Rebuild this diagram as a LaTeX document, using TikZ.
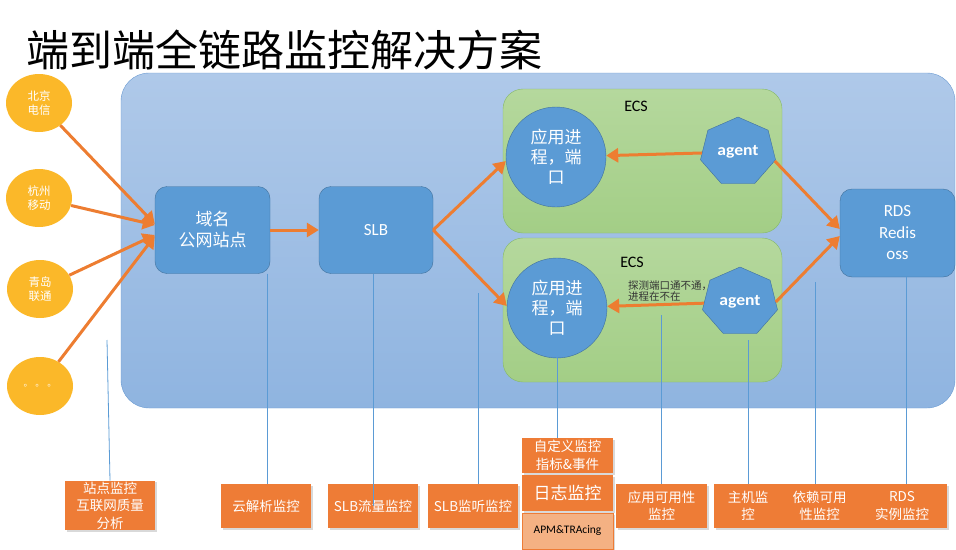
\documentclass[tikz,border=0pt]{standalone}
\usepackage{fontspec}
\setmainfont{Carlito}
\newfontfamily\cjk{Noto Sans CJK SC}
\usetikzlibrary{shapes.geometric,arrows.meta,shadows}

\definecolor{bgtop}{HTML}{AFC9E9}
\definecolor{bgbot}{HTML}{8FB4E0}
\definecolor{bgline}{HTML}{6B9BD2}
\definecolor{nodeblue}{HTML}{5B9BD5}
\definecolor{nodeline}{HTML}{41719C}
\definecolor{ecstop}{HTML}{B5D89D}
\definecolor{ecsbot}{HTML}{A3CE86}
\definecolor{ecsline}{HTML}{86B86A}
\definecolor{ispyellow}{HTML}{FBB829}
\definecolor{flowc}{HTML}{ED7D31}
\definecolor{monc}{HTML}{EE7C36}
\definecolor{monlight}{HTML}{F4B183}
\definecolor{tapline}{HTML}{5B9BD5}

\begin{document}
\begin{tikzpicture}[
        x=1pt, y=-1pt,
        >={Triangle[length=12pt,width=14pt]},
        blk/.style={
            draw=nodeline, fill=nodeblue, text=white, rounded corners=12pt,
            minimum width=115pt, minimum height=87pt, align=center,
            font=\fontsize{17}{21}\selectfont
        },
        isp/.style={
            ellipse, fill=ispyellow, text=white, minimum width=66pt,
            minimum height=58pt, align=center,
            font=\cjk\fontsize{11.5}{14}\selectfont
        },
        ecsbox/.style={
            draw=ecsline, top color=ecstop, bottom color=ecsbot,
            rounded corners=20pt, minimum width=279pt, minimum height=144pt
        },
        proc/.style={
            circle, draw=nodeline, fill=nodeblue, text=white, minimum size=100pt,
            inner sep=0pt, align=center, font=\cjk\fontsize{17}{20}\selectfont
        },
        agentnode/.style={
            regular polygon, regular polygon sides=7, draw=nodeline,
            fill=nodeblue, text=white, minimum size=70pt, inner sep=0pt,
            xscale=1.1, font=\bfseries\fontsize{16}{18}\selectfont
        },
        mon/.style={
            fill=monc, text=white, minimum width=90pt, minimum height=44pt,
            inner sep=1pt, align=center, font=\cjk\fontsize{13.5}{17.5}\selectfont,
            drop shadow={shadow xshift=1.5pt, shadow yshift=-1.5pt, opacity=0.3}
        },
        flow/.style={->, draw=flowc, line width=3pt},
        tap/.style={draw=tapline, line width=0.8pt}
    ]
    \useasboundingbox (0,0) rectangle (956,549);

    % 1. 标题
    \node[anchor=west, inner sep=0pt, font=\cjk\fontsize{43}{45}\selectfont]
        (title) at (26,50) {端到端全链路监控解决方案};

    % 2. 阿里云背景
    \node[draw=bgline, top color=bgtop, bottom color=bgbot, rounded corners=28pt,
        minimum width=834pt, minimum height=335pt] (cloud) at (538,240.5) {};

    % 3. 运营商
    \node[isp] (bj) at (39,103) {北京\\电信};
    \node[isp] (hz) at (39,198) {杭州\\移动};
    \node[isp] (qd) at (40,289) {青岛\\联通};
    \node[isp, font=\cjk\fontsize{9}{10}\selectfont] (more) at (40,386)
        {。\hspace{3pt}。\hspace{3pt}。};

    % 4. 域名和 SLB
    \node[blk, font=\cjk\fontsize{17}{21}\selectfont] (dns) at (212.5,230) {域名\\公网站点};
    \node[blk, minimum width=114pt] (slb) at (376,230) {SLB};

    % 5. 两台 ECS
    \node[ecsbox] (ecs1) at (642.5,161) {};
    \node[ecsbox] (ecs2) at (642.5,310) {};
    \node[font=\fontsize{16}{18}\selectfont] (ecs1t) at (636,106) {ECS};
    \node[font=\fontsize{16}{18}\selectfont] (ecs2t) at (632,262) {ECS};

    \node[proc] (app1) at (556,157) {应用进\\程，端\\口};
    \node[proc] (app2) at (557,308) {应用进\\程，端\\口};
    \node[anchor=west, inner sep=0pt, align=left, text=black!80,
        font=\cjk\fontsize{10.5}{11.5}\selectfont]
        (probe) at (628,291) {探测端口通不通，\\进程在不在};
    \node[agentnode] (ag1) at (738,152) {agent};
    \node[agentnode] (ag2) at (740,302) {agent};

    % 6. 后端存储
    \node[blk, minimum height=88pt, font=\fontsize{17}{21.5}\selectfont]
        (rds) at (897.5,233) {RDS\\Redis\\oss};

    % 7. 链路箭头
    \draw[flow] (bj) -- ([yshift=6pt]dns.west);
    \draw[flow] (hz) -- ([yshift=5pt]dns.west);
    \draw[flow] (qd) -- ([yshift=-5pt]dns.west);
    \draw[flow] (more) -- ([yshift=-6pt]dns.west);
    \draw[flow] (dns) -- (slb);
    \draw[flow] (slb.east) -- ([yshift=-4pt]app1.west);
    \draw[flow] (slb.east) -- ([yshift=2pt]app2.west);
    \draw[flow] (ag1) -- (app1);
    \draw[flow] (ag2) -- (app2);
    \draw[flow] (ag1.-15) -- ([yshift=4pt]rds.west);
    \draw[flow] (ag2.east) -- ([yshift=-3pt]rds.west);

    % 8. 监控项
    \node[mon] (site) at (110,505.5) {站点监控\\互联网质量\\分析};
    \node[mon] (dnsmon) at (266,506) {云解析监控};
    \node[mon] (slbflow) at (373,506) {SLB流量监控};
    \node[mon] (slblisten) at (473,506) {SLB监听监控};
    \node[mon, minimum width=91pt, minimum height=35pt] (custom) at (567.5,455.5) {自定义监控\\指标\&事件};
    \node[mon, minimum width=91pt, minimum height=36pt, font=\cjk\fontsize{17}{20}\selectfont]
        (logmon) at (567.5,493) {日志监控};
    \node[mon, fill=monlight, draw=monc, text=black, minimum width=91pt, minimum height=36pt,
        font=\fontsize{11.5}{13}\selectfont] (apm) at (567.5,531) {APM\&TRAcing};
    \node[mon, minimum width=91pt] (avail) at (661.5,506) {应用可用性\\监控};
    \node[mon, minimum width=68pt] (host) at (748,506) {主机监\\控};
    \node[mon, minimum width=75pt] (dep) at (819.5,506) {依赖可用\\性监控};
    \node[mon] (rdsmon) at (902,506) {RDS\\实例监控};

    % 9. 监控引线
    \coordinate (t1) at (107,340);
    \coordinate (t4) at (478,293);
    \coordinate (t6) at (661,315);
    \coordinate (t7) at (748,340);
    \coordinate (t8) at (815,282);
    \draw[tap] (t1) -- (site.north);
    \draw[tap] ([xshift=-3pt]dns.south east) -- ([xshift=-3pt]dns.south east |- dnsmon.north);
    \draw[tap] (slbflow.center |- slb.south) -- (slbflow.center);
    \draw[tap] (t4) -- (t4 |- slblisten.north);
    \draw[tap] (app2.south) -- (app2.south |- custom.north);
    \draw[tap] (t6) -- (t6 |- avail.north);
    \draw[tap] (t7) -- (host.north);
    \draw[tap] (t8) -- (t8 |- dep.north);
    \draw[tap] ([xshift=8.5pt]rds.south) -- ([xshift=8.5pt]rds.south |- rdsmon.north);

\end{tikzpicture}
\end{document}
